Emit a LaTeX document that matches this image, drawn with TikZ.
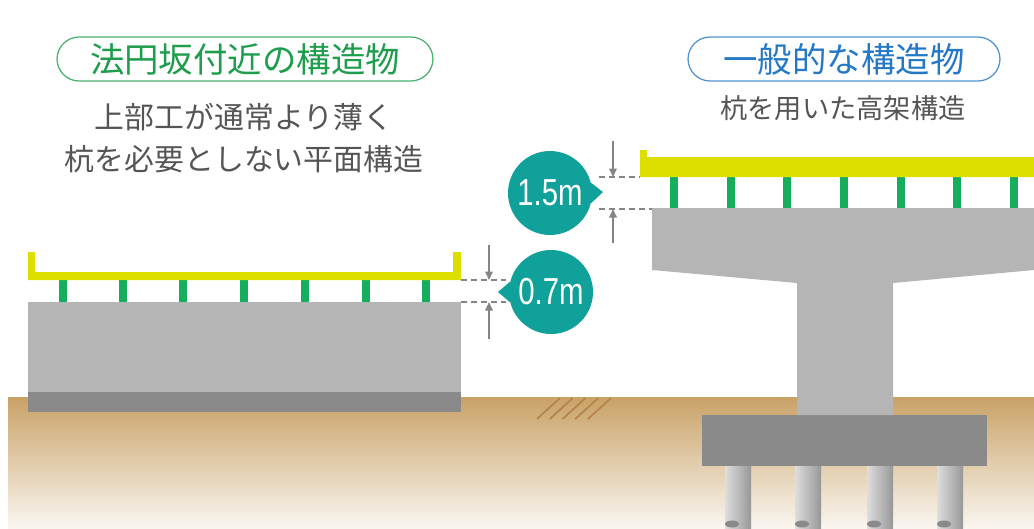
\documentclass[tikz,border=0pt]{standalone}
\usepackage{fontspec}
\setmainfont{Noto Sans CJK JP}
\newfontfamily\numfont[FakeStretch=0.78]{Liberation Sans}
\usetikzlibrary{arrows.meta}
\definecolor{deckyellow}{HTML}{DCDF00}
\definecolor{postgreen}{HTML}{14AE5C}
\definecolor{concrete}{HTML}{B4B5B4}
\definecolor{footing}{HTML}{898A89}
\definecolor{soil}{HTML}{C9A267}
\definecolor{soilfade}{HTML}{FAF6F0}
\definecolor{hatchbrown}{HTML}{B4844A}
\definecolor{pilelight}{HTML}{DEDEDE}
\definecolor{piledark}{HTML}{979797}
\definecolor{bubbleteal}{HTML}{0FA19A}
\definecolor{dimgray}{HTML}{858585}
\definecolor{titlegreen}{HTML}{1E9E4C}
\definecolor{titleblue}{HTML}{2478C6}
\definecolor{textgray}{HTML}{555555}

\begin{document}
\begin{tikzpicture}[x=0.02cm, y=-0.02cm,
    post/.style={postgreen, line width=0.16cm},
    dimline/.style={dimgray, dash pattern=on 0.12cm off 0.08cm, line width=0.045cm},
    dimarrow/.style={dimgray, line width=0.035cm, -{Triangle[length=0.17cm,width=0.15cm]}},
    bubble/.style={circle, fill=bubbleteal, text=white, minimum size=1.68cm, inner sep=0pt,
        font=\numfont\fontsize{21.4}{24}\selectfont},
    pill/.style={draw, fill=white, rounded corners=0.44cm, line width=0.025cm,
        minimum height=0.88cm, inner sep=0pt, font=\fontsize{19.6}{22}\selectfont},
    caption/.style={text=textgray, align=center, inner sep=0pt}]
    \useasboundingbox (0,0) rectangle (1034,528);

    % ground
    \shade[top color=soil, bottom color=soilfade] (8,397) rectangle (1034,528);
    \foreach \i in {0,...,4}
        \draw[hatchbrown, line width=0.035cm] ({537+12.75*\i},419) -- ({560+12.75*\i},398);

    % flat structure
    \fill[concrete] (28,302) rectangle (461,392);
    \fill[footing] (28,392) rectangle (461,412);
    \foreach \x in {63,123,183,244,305,366,426}
        \draw[post] (\x,280) -- (\x,302);
    \fill[deckyellow] (28,252) -- (28,280) -- (461,280) -- (461,252) -- (453,252)
        -- (453,272) -- (35,272) -- (35,252) -- cycle;

    % viaduct
    \foreach \x in {738,808,880,950} {
        \shade[left color=pilelight, right color=piledark] (\x-13,466) rectangle (\x+13,528);
        \fill[footing] (\x-6,524) ellipse [x radius=7, y radius=3.5];
    }
    \fill[footing] (702,415) rectangle (987,466);
    \fill[concrete] (652,208) -- (1034,208) -- (1034,270) -- (893,283) -- (893,415)
        -- (797,415) -- (797,283) -- (652,270) -- cycle;
    \foreach \x in {674,731,787,844,901,957,1014}
        \draw[post] (\x,177) -- (\x,208);
    \fill[deckyellow] (640,150) -- (647,150) -- (647,157) -- (1034,157) -- (1034,177)
        -- (640,177) -- cycle;

    % titles
    \node[pill, draw=titlegreen!80, text=titlegreen, minimum width=7.52cm] (flat) at (245,59) {法円坂付近の構造物};
    \node[caption, font=\fontsize{17}{23.5}\selectfont] (flatnote) at (244,138)
        {上部工が通常より薄く\\杭を必要としない平面構造};
    \node[pill, draw=titleblue!80, text=titleblue, minimum width=6.24cm] (usual) at (844,59) {一般的な構造物};
    \node[caption, font=\fontsize{15.5}{18}\selectfont] (usualnote) at (843,108) {杭を用いた高架構造};

    % 0.7m
    \coordinate (lt) at (461,280);
    \coordinate (lb) at (461,302);
    \coordinate (lte) at (506,280);
    \coordinate (lbe) at (506,302);
    \coordinate (la1) at (489,245);
    \coordinate (la2) at (489,280);
    \coordinate (la3) at (489,339);
    \coordinate (la4) at (489,302);
    \draw[dimline] (lt) -- (lte);
    \draw[dimline] (lb) -- (lbe);
    \draw[dimarrow] (la1) -- (la2);
    \draw[dimarrow] (la3) -- (la4);
    \node[bubble] (b07) at (551,292) {0.7m};
    \coordinate (b07tip) at (498,292);
    \fill[bubbleteal] (b07.166) -- (b07tip) -- (b07.194) -- cycle;

    % 1.5m
    \coordinate (rt) at (640,177);
    \coordinate (rb) at (652,209);
    \coordinate (rte) at (599,177);
    \coordinate (rbe) at (599,209);
    \coordinate (ra1) at (613,141);
    \coordinate (ra2) at (613,177);
    \coordinate (ra3) at (613,243);
    \coordinate (ra4) at (613,209);
    \draw[dimline] (rte) -- (rt);
    \draw[dimline] (rbe) -- (rb);
    \draw[dimarrow] (ra1) -- (ra2);
    \draw[dimarrow] (ra3) -- (ra4);
    \node[bubble] (b15) at (550,193) {1.5m};
    \coordinate (b15tip) at (603,192);
    \fill[bubbleteal] (b15.14) -- (b15tip) -- (b15.-14) -- cycle;
\end{tikzpicture}
\end{document}
